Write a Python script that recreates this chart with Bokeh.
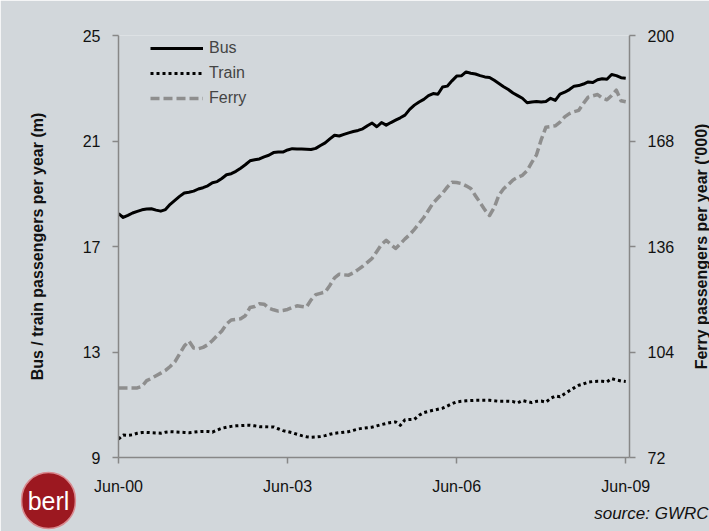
import math

from bokeh.embed import file_html
from bokeh.models import FixedTicker, Label, Legend, LegendItem, LinearAxis, Range1d
from bokeh.plotting import figure
from bokeh.resources import INLINE

# Monthly rolling annual patronage, Jun-00 .. Jun-09 (month index 0 = Jun-00)
tick_months = [0, 36, 72, 108]
tick_labels = ["Jun-00", "Jun-03", "Jun-06", "Jun-09"]

left_ticks = [9, 13, 17, 21, 25]
right_ticks = [72, 104, 136, 168, 200]

# Bus passengers per year (millions)
bus = [
    18.25, 18.10, 18.18, 18.27, 18.33, 18.39, 18.42, 18.43, 18.38, 18.34,
    18.40, 18.60, 18.75, 18.90, 19.03, 19.06, 19.10, 19.18, 19.23, 19.30,
    19.42, 19.46, 19.58, 19.72, 19.76, 19.85, 19.97, 20.10, 20.25, 20.29,
    20.32, 20.40, 20.46, 20.56, 20.58, 20.58, 20.66, 20.71, 20.70, 20.70,
    20.69, 20.68, 20.72, 20.83, 20.93, 21.08, 21.22, 21.19, 21.25, 21.31,
    21.36, 21.40, 21.46, 21.58, 21.68, 21.54, 21.70, 21.60, 21.70, 21.79,
    21.88, 21.98, 22.20, 22.36, 22.48, 22.58, 22.72, 22.80, 22.77, 23.05,
    23.08, 23.28, 23.46, 23.47, 23.62, 23.57, 23.54, 23.48, 23.43, 23.41,
    23.30, 23.18, 23.06, 22.95, 22.82, 22.72, 22.62, 22.45, 22.48, 22.50,
    22.48, 22.50, 22.62, 22.54, 22.78, 22.85, 22.95, 23.08, 23.10, 23.16,
    23.24, 23.22, 23.32, 23.36, 23.34, 23.52, 23.48, 23.40, 23.38,
]

# Train passengers per year (millions)
train = [
    9.70, 9.85, 9.84, 9.86, 9.92, 9.95, 9.95, 9.94, 9.93, 9.92,
    9.96, 9.98, 9.97, 9.96, 9.95, 9.94, 9.96, 9.98, 9.99, 9.99,
    9.96, 10.04, 10.11, 10.15, 10.18, 10.20, 10.21, 10.22, 10.22, 10.20,
    10.17, 10.17, 10.16, 10.16, 10.09, 10.02, 9.98, 9.94, 9.88, 9.83,
    9.79, 9.77, 9.78, 9.80, 9.83, 9.88, 9.92, 9.94, 9.96, 9.98,
    10.03, 10.08, 10.11, 10.13, 10.15, 10.20, 10.25, 10.29, 10.33, 10.35,
    10.22, 10.43, 10.44, 10.45, 10.60, 10.70, 10.75, 10.79, 10.83, 10.87,
    10.95, 11.04, 11.11, 11.13, 11.15, 11.16, 11.17, 11.17, 11.17, 11.17,
    11.15, 11.13, 11.13, 11.13, 11.12, 11.07, 11.16, 11.12, 11.08, 11.13,
    11.14, 11.10, 11.24, 11.33, 11.30, 11.42, 11.53, 11.64, 11.74, 11.79,
    11.86, 11.88, 11.89, 11.89, 11.87, 11.99, 11.94, 11.90, 11.88,
]

# Ferry passengers per year (thousands)
ferry = [
    93.1, 93.1, 93.1, 93.1, 93.1, 93.6, 95.3, 96.0, 96.8, 97.6,
    98.4, 99.6, 101.0, 103.4, 105.8, 107.3, 105.2, 105.0, 105.4, 106.2,
    107.5, 109.0, 110.4, 112.5, 113.7, 113.9, 114.1, 115.0, 117.5, 117.8,
    118.6, 118.5, 117.3, 116.8, 116.4, 116.6, 116.9, 117.5, 118.0, 117.8,
    117.6, 119.8, 121.4, 121.8, 122.2, 124.2, 126.5, 127.6, 127.4, 127.3,
    128.0, 129.0, 130.0, 131.2, 132.4, 134.5, 136.6, 137.9, 136.6, 135.4,
    136.8, 138.3, 139.6, 141.2, 143.0, 144.8, 147.0, 149.2, 150.7, 152.2,
    154.0, 155.5, 155.4, 155.1, 154.4, 153.6, 151.4, 149.3, 147.1, 145.4,
    147.8, 151.6, 153.5, 154.8, 156.2, 157.0, 157.6, 159.0, 161.5, 163.8,
    168.4, 172.2, 172.4, 172.6, 173.7, 175.3, 176.3, 176.9, 177.3, 179.4,
    181.3, 181.7, 182.1, 181.0, 180.5, 181.8, 183.4, 180.2, 179.9,
]

months = list(range(len(bus)))

FONT = "Liberation Sans"
BG = "#d2d7db"
AXIS_GREY = "#878787"

p = figure(
    width=709, height=531,
    output_backend="svg", toolbar_location=None,
    x_range=Range1d(0, 108.8), y_range=Range1d(9, 25),
    min_border_left=118, min_border_right=80,
    min_border_top=35, min_border_bottom=74,
    background_fill_color=BG, border_fill_color=BG,
)
p.extra_y_ranges = {"ferry": Range1d(72, 200)}
p.outline_line_color = None
p.xgrid.visible = False
p.ygrid.visible = False


def style_axis(ax):
    ax.axis_line_color = AXIS_GREY
    ax.axis_line_width = 1.5
    ax.major_tick_line_color = AXIS_GREY
    ax.major_tick_line_width = 1.5
    ax.major_tick_in = 0
    ax.major_tick_out = 6
    ax.minor_tick_line_color = None
    ax.major_label_text_font = FONT
    ax.major_label_text_font_size = "16px"
    ax.major_label_text_color = "#111111"
    ax.major_label_standoff = 12


xax = p.xaxis[0]
xax.ticker = FixedTicker(ticks=tick_months)
xax.major_label_overrides = {m: lab for m, lab in zip(tick_months, tick_labels)}
style_axis(xax)
xax.major_label_standoff = 14

yax = p.yaxis[0]
yax.ticker = FixedTicker(ticks=left_ticks)
style_axis(yax)

rax = LinearAxis(y_range_name="ferry", ticker=FixedTicker(ticks=right_ticks))
style_axis(rax)
p.add_layout(rax, "right")

r_bus = p.line(months, bus, line_color="black", line_width=3, line_join="round")
r_train = p.line(months, train, line_color="black", line_width=3,
                 line_dash="3 3", line_join="round")
r_ferry = p.line(months, ferry, line_color="#8e8e8e", line_width=3.5,
                 line_dash="9 4", line_join="round", y_range_name="ferry")

legend = Legend(
    items=[
        LegendItem(label="Bus", renderers=[r_bus]),
        LegendItem(label="Train", renderers=[r_train]),
        LegendItem(label="Ferry", renderers=[r_ferry]),
    ],
    location=(32, 349),
    background_fill_alpha=0, border_line_color=None,
    padding=0, margin=0, spacing=5,
    glyph_width=53, glyph_height=20, label_height=20, label_standoff=6,
    label_text_font=FONT, label_text_font_size="16px",
)
p.add_layout(legend)

# Texts outside the frame live in the side panels and use canvas coordinates
title_style = dict(
    x_units="canvas", y_units="canvas", angle=math.pi / 2,
    text_align="center", text_baseline="middle",
    text_font=FONT, text_font_size="16px", text_font_style="bold",
    text_color="#111111",
)
p.add_layout(Label(x=37, y=246, text="Bus / train passengers per year (m)",
                   **title_style), "left")
p.add_layout(Label(x=701, y=246, text="Ferry passengers per year ('000)",
                   **title_style), "right")

p.add_layout(Label(
    x=708, y=513, x_units="canvas", y_units="canvas",
    text="source: GWRC", text_align="right", text_baseline="middle",
    text_font=FONT, text_font_size="17px", text_font_style="italic",
    text_color="#111111",
), "below")

# Round berl badge
p.add_layout(Label(
    x=48, y=500, x_units="canvas", y_units="canvas",
    text="berl", text_align="center", text_baseline="middle",
    text_font=FONT, text_font_size="25px", text_color="white",
    background_fill_color="#9c1820", border_line_color="#d98a90",
    border_line_width=1.5, padding=(6, 14), border_radius=28,
), "left")

open("out.html", "w").write(file_html(p, INLINE))
